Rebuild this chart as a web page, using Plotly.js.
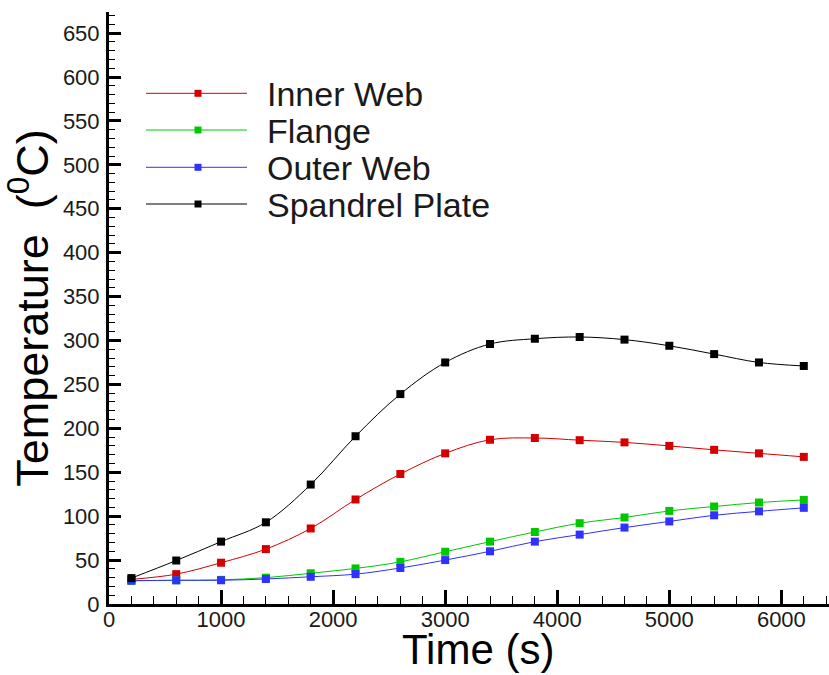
<!DOCTYPE html>
<html>
<head>
<meta charset="utf-8">
<script src="https://cdn.plot.ly/plotly-3.0.1.min.js"></script>
<style>html,body{margin:0;padding:0;background:#fff;}#chart{width:829px;height:675px;}</style>
</head>
<body>
<div id="chart"></div>
<script>
const time = [200, 600, 1000, 1400, 1800, 2200, 2600, 3000, 3400, 3800, 4200, 4600, 5000, 5400, 5800, 6200];
const innerWeb = [28, 34, 47, 62.5, 86, 119, 148, 171.5, 187, 189, 186.5, 184, 180, 175.5, 171.5, 167.5];
const flange = [26.5, 27, 27.5, 30, 35, 40.5, 48, 59.5, 71, 82, 92, 98.5, 106, 111, 115.5, 118.5];
const outerWeb = [26.5, 27, 27, 28.5, 31, 34, 41, 50, 60, 71, 79, 87, 94, 101, 105.5, 109.5];
const spandrel = [29.5, 49.5, 71, 93, 136, 191, 239, 275, 296, 302, 304, 301, 294, 284.5, 275, 271];
const seriesNames = ['Inner Web', 'Flange', 'Outer Web', 'Spandrel Plate'];
const seriesColors = ['#d40000', '#00c800', '#3030ff', '#000000'];
const seriesData = [innerWeb, flange, outerWeb, spandrel];
const xTitle = 'Time (s)';
const yTitle = 'Temperature  (<sup>0</sup>C)';

const W = 829, H = 675;
const M = {l: 109, r: 0, t: 12, b: 71};
const PW = W - M.l - M.r, PH = H - M.t - M.b;
const px = v => (v - M.l) / PW;
const py = v => (H - M.b - v) / PH;

const traces = seriesData.map((d, i) => ({
  x: time, y: d, type: 'scatter', mode: 'lines+markers', name: seriesNames[i],
  line: {color: seriesColors[i], width: 1, shape: 'spline', smoothing: 1},
  marker: {symbol: 'square', size: 8, color: seriesColors[i]},
  showlegend: false
}));

const fam = 'Liberation Sans, Arial, sans-serif';
// legend drawn as decoration
const shapes = [], annotations = [];
const rowY = [93.3, 130, 167.3, 204];
seriesNames.forEach((n, i) => {
  shapes.push({type: 'line', xref: 'paper', yref: 'paper', x0: px(146), x1: px(247), y0: py(rowY[i]), y1: py(rowY[i]),
    line: {color: seriesColors[i], width: 1}});
  shapes.push({type: 'rect', xref: 'paper', yref: 'paper', x0: px(194.5), x1: px(201.5), y0: py(rowY[i] + 3.5), y1: py(rowY[i] - 3.5),
    line: {width: 0}, fillcolor: seriesColors[i]});
  annotations.push({xref: 'paper', yref: 'paper', x: px(265), y: py(rowY[i] + 1), xanchor: 'left', yanchor: 'middle',
    text: n, showarrow: false, font: {family: fam, size: 34, color: '#1a1a1a'}});
});
annotations.push({xref: 'paper', yref: 'paper', x: px(478), y: py(649), xanchor: 'center', yanchor: 'middle',
  text: xTitle, showarrow: false, font: {family: fam, size: 42, color: '#000'}});

const tickFont = {family: fam, size: 22, color: '#1a1a1a'};

const layout = {
  width: W, height: H,
  margin: M,
  paper_bgcolor: '#fff', plot_bgcolor: '#fff',
  showlegend: false,
  xaxis: {
    range: [0, 6425], tick0: 0, dtick: 1000, ticks: 'inside', ticklen: 14, tickwidth: 3, tickcolor: '#000',
    minor: {dtick: 200, ticks: 'inside', ticklen: 8, tickwidth: 1, tickcolor: '#000'},
    showline: true, linecolor: '#000', linewidth: 3, showgrid: false, zeroline: false,
    tickfont: tickFont, ticklabelstandoff: -6
  },
  yaxis: {
    range: [0, 674], tick0: 0, dtick: 50, ticks: 'inside', ticklen: 12, tickwidth: 3, tickcolor: '#000',
    minor: {dtick: 10, ticks: 'inside', ticklen: 6, tickwidth: 1, tickcolor: '#000'},
    showline: true, linecolor: '#000', linewidth: 3, showgrid: false, zeroline: false,
    tickfont: tickFont, ticklabelstandoff: 2,
    title: {text: yTitle, font: {family: fam, size: 45, color: '#000'}, standoff: 2}
  },
  shapes: shapes,
  annotations: annotations
};

Plotly.newPlot('chart', traces, layout, {displayModeBar: false, staticPlot: true});
</script>
</body>
</html>
